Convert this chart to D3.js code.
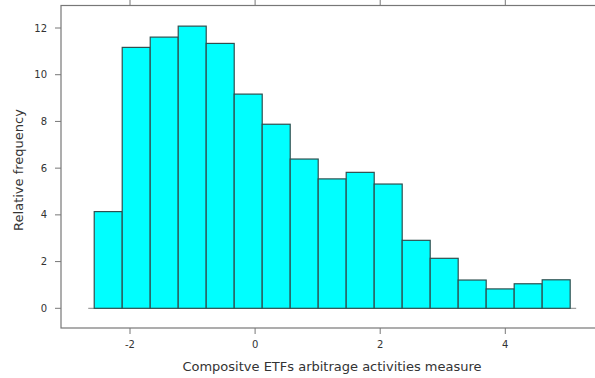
<!DOCTYPE html>
<html>
<head>
<meta charset="utf-8">
<script src="https://cdn.jsdelivr.net/npm/d3@7"></script>
<style>
  body { margin: 0; background: #fff; }
  svg { display: block; font-family: "DejaVu Sans", sans-serif; }
</style>
</head>
<body>
<svg width="595" height="378"></svg>
<script>
// histogram bins (bin start, width) and relative frequencies (%)
const binStart = -2.572;
const binWidth = 0.4476;
const freqs = [4.14, 11.17, 11.61, 12.08, 11.34, 9.17, 7.88, 6.39, 5.54, 5.82, 5.32,
               2.91, 2.14, 1.21, 0.83, 1.05, 1.22];
const xTicks = [-2, 0, 2, 4];
const yTicks = [0, 2, 4, 6, 8, 10, 12];

const svg = d3.select("svg");
const box = { left: 61, top: 5.5, right: 600, bottom: 328 };

// scales: x(0)=255, x(4)=505.3 ; y(0)=308.3, y(12)=28
const x = d3.scaleLinear().domain([-2, 4]).range([130, 505.3]);
const y = d3.scaleLinear().domain([0, 12]).range([308.3, 28]);

const bins = freqs.map((f, i) => ({ x0: binStart + i * binWidth, x1: binStart + (i + 1) * binWidth, f: f }));

// baseline at zero
svg.append("line")
    .attr("x1", x(binStart) - 6).attr("x2", x(binStart + freqs.length * binWidth) + 6)
    .attr("y1", y(0)).attr("y2", y(0))
    .attr("stroke", "#888").attr("stroke-width", 1);

svg.append("g").selectAll("rect")
    .data(bins)
    .enter().append("rect")
    .attr("x", d => x(d.x0))
    .attr("width", d => x(d.x1) - x(d.x0))
    .attr("y", d => y(d.f))
    .attr("height", d => y(0) - y(d.f))
    .attr("fill", "#00ffff")
    .attr("stroke", "#2f4f4f")
    .attr("stroke-width", 1.2);

// panel box
svg.append("rect")
    .attr("x", box.left).attr("y", box.top)
    .attr("width", box.right - box.left).attr("height", box.bottom - box.top)
    .attr("fill", "none").attr("stroke", "#777").attr("stroke-width", 1.2);

const axisColor = "#777";

// left axis
const yAxis = svg.append("g");
yAxis.selectAll("line").data(yTicks).enter().append("line")
    .attr("x1", box.left - 6).attr("x2", box.left)
    .attr("y1", d => y(d)).attr("y2", d => y(d))
    .attr("stroke", axisColor);
yAxis.selectAll("text").data(yTicks).enter().append("text")
    .attr("x", box.left - 14).attr("y", d => y(d)).attr("dy", "0.35em")
    .attr("text-anchor", "end").attr("font-size", 10).attr("fill", "#333")
    .text(d => d);

// bottom axis
const xAxis = svg.append("g");
xAxis.selectAll("line").data(xTicks).enter().append("line")
    .attr("x1", d => x(d)).attr("x2", d => x(d))
    .attr("y1", box.bottom).attr("y2", box.bottom + 6)
    .attr("stroke", axisColor);
xAxis.selectAll("text").data(xTicks).enter().append("text")
    .attr("x", d => x(d)).attr("y", box.bottom + 20)
    .attr("text-anchor", "middle").attr("font-size", 10).attr("fill", "#333")
    .text(d => d);

// top ticks
svg.append("g").selectAll("line").data(xTicks).enter().append("line")
    .attr("x1", d => x(d)).attr("x2", d => x(d))
    .attr("y1", box.top - 6).attr("y2", box.top)
    .attr("stroke", axisColor);

// axis titles
svg.append("text")
    .attr("x", 332).attr("y", 371)
    .attr("text-anchor", "middle").attr("font-size", 13).attr("fill", "#333")
    .text("Compositve ETFs arbitrage activities measure");

svg.append("text")
    .attr("transform", "translate(23,170) rotate(-90)")
    .attr("text-anchor", "middle").attr("font-size", 13).attr("fill", "#333")
    .text("Relative frequency");
</script>
</body>
</html>
